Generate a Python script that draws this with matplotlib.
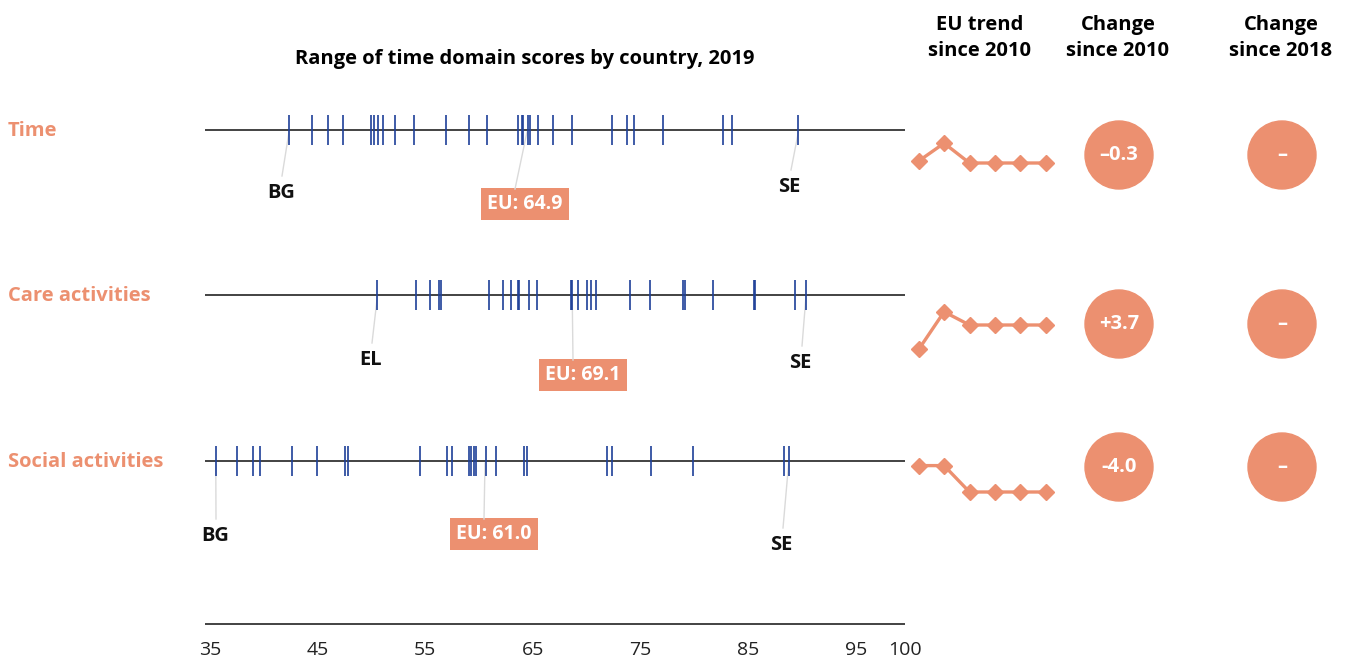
import matplotlib.pyplot as plt
from matplotlib.patches import Circle

plt.rcParams['font.family'] = ['Open Sans', 'DejaVu Sans']

# 데이터
domains = ['Time', 'Care activities', 'Social activities']
time_scores = [42.8, 44.9, 46.4, 47.8, 50.4, 50.7, 51.1, 51.5, 52.6, 54.4, 57.4, 59.5,
               61.2, 64.1, 64.4, 64.5, 65.0, 65.2, 65.9, 67.3, 69.1, 72.8, 74.2, 74.8,
               77.5, 83.1, 83.9, 90.1]
care_scores = [51.0, 54.6, 55.9, 56.7, 56.9, 61.4, 62.7, 63.4, 64.1, 64.2, 65.1, 65.8,
               69.0, 69.1, 69.6, 70.5, 70.8, 71.3, 74.5, 76.3, 79.4, 79.6, 82.2, 86.0,
               86.1, 89.8, 90.8]
social_scores = [36.0, 38.0, 39.5, 40.1, 43.1, 45.4, 48.0, 48.3, 55.0, 57.5, 57.9, 59.5,
                 59.7, 60.0, 60.2, 61.1, 62.0, 64.6, 64.9, 72.3, 72.8, 76.4, 80.3, 88.8,
                 89.2]
eu_scores = [64.9, 69.1, 61.0]
low_codes = ['BG', 'EL', 'BG']
high_codes = ['SE', 'SE', 'SE']
trend_years = [2010, 2012, 2015, 2017, 2018, 2019]
trend_values = [
    [65.2, 67.9, 64.9, 64.9, 64.9, 64.9],
    [65.4, 71.1, 69.1, 69.1, 69.1, 69.1],
    [65.0, 65.0, 61.0, 61.0, 61.0, 61.0],
]
change_2010 = ['–0.3', '+3.7', '-4.0']
change_2018 = ['–', '–', '–']
axis_ticks = [35, 45, 55, 65, 75, 85, 95, 100]

all_scores = [time_scores, care_scores, social_scores]

# 레이아웃 (픽셀 단위)
W, H = 1347, 664
row_y = [130, 295, 461]
low_lbl = [(281, 193), (371, 360), (215, 536)]
high_lbl = [(789, 187), (800, 363), (781, 545)]
eu_lbl = [(525, 204), (583, 375), (494, 534)]
trend_final_y = [163, 325, 492]

salmon = '#EC9070'
navy = '#1E3F98'
grey = '#DADADA'
fw = 'bold'

fig = plt.figure(figsize=(W / 100, H / 100), dpi=100)

# 전체 픽셀 좌표 오버레이
ov = fig.add_axes([0, 0, 1, 1])
ov.set_xlim(0, W)
ov.set_ylim(H, 0)
ov.axis('off')

# 점수 띠 축 (35~100)
x0, x1 = 205, 905
ax = fig.add_axes([x0 / W, 0, (x1 - x0) / W, 1])
ax.set_xlim(35, 100)
ax.set_ylim(H, 0)
ax.axis('off')


def px_to_val(px):
    return 35 + (px - x0) / (x1 - x0) * 65


for i, name in enumerate(domains):
    y = row_y[i]
    scores = all_scores[i]
    ax.hlines(y, 35, 100, color='#222222', lw=1.2, zorder=2)
    ax.vlines(scores, y - 15, y + 15, color=navy, lw=1.2, zorder=3)

    ov.text(8, y + 1, name, color=salmon, fontsize=14.5, fontweight=fw,
            ha='left', va='center')

    # 최저/최고 국가 표시
    lo, hi = min(scores), max(scores)
    lx, ly = low_lbl[i]
    ax.plot([lo, px_to_val(lx + 1)], [y + 2, ly - 17], color=grey, lw=1, zorder=1)
    ov.text(lx, ly, low_codes[i], fontsize=14.5, fontweight=fw, ha='center', va='center',
            color='#111111')
    hx, hy = high_lbl[i]
    ax.plot([hi, px_to_val(hx + 2)], [y + 2, hy - 17], color=grey, lw=1, zorder=1)
    ov.text(hx, hy, high_codes[i], fontsize=14.5, fontweight=fw, ha='center', va='center',
            color='#111111')

    # EU 평균
    ex, ey = eu_lbl[i]
    ax.plot([eu_scores[i], px_to_val(ex - 10)], [y + 2, ey - 15], color=grey, lw=1, zorder=1)
    ov.text(ex, ey, f'EU: {eu_scores[i]:.1f}', fontsize=14, fontweight=fw, color='white',
            ha='center', va='center',
            bbox=dict(boxstyle='square,pad=0.3', facecolor=salmon, edgecolor='none'))

    # EU 추세
    s = 6.6  # px per point
    fy = trend_final_y[i]
    top, bot = fy - 50, fy + 30
    tax = fig.add_axes([906 / W, 1 - bot / H, 152.4 / W, (bot - top) / H])
    vf = trend_values[i][-1]
    tax.set_ylim(vf - 30 / s, vf + 50 / s)
    tax.set_xlim(-0.5, 5.5)
    tax.plot(range(len(trend_years)), trend_values[i], color=salmon, lw=2.4,
             marker='D', markersize=8.5, clip_on=False)
    tax.axis('off')

    # 변화 원
    cy = [155, 324, 467][i]
    ov.add_patch(Circle((1119, cy), 34, color=salmon))
    ov.text(1119, cy, change_2010[i], color='white', fontsize=14.5, fontweight=fw,
            ha='center', va='center')
    ov.add_patch(Circle((1282, cy), 34, color=salmon))
    ov.text(1282, cy, change_2018[i], color='white', fontsize=14.5, fontweight=fw,
            ha='center', va='center')

# 아래 눈금 축
ax.hlines(624, 35, 100, color='#222222', lw=1.2)
for t in axis_ticks:
    off = 0.45 if t != 100 else 0
    ax.text(t + off, 650, str(t), fontsize=14, ha='center', va='center', color='#222222')

# 제목
ov.text(525, 59, 'Range of time domain scores by country, 2019', fontsize=14.5,
        fontweight=fw, ha='center', va='center')
for hx, txt in [(980, 'EU trend\nsince 2010'), (1118, 'Change\nsince 2010'),
                (1281, 'Change\nsince 2018')]:
    ov.text(hx, 38, txt, fontsize=14.5, fontweight=fw, ha='center', va='center',
            linespacing=1.45)

fig.savefig('out.png', dpi=100)
